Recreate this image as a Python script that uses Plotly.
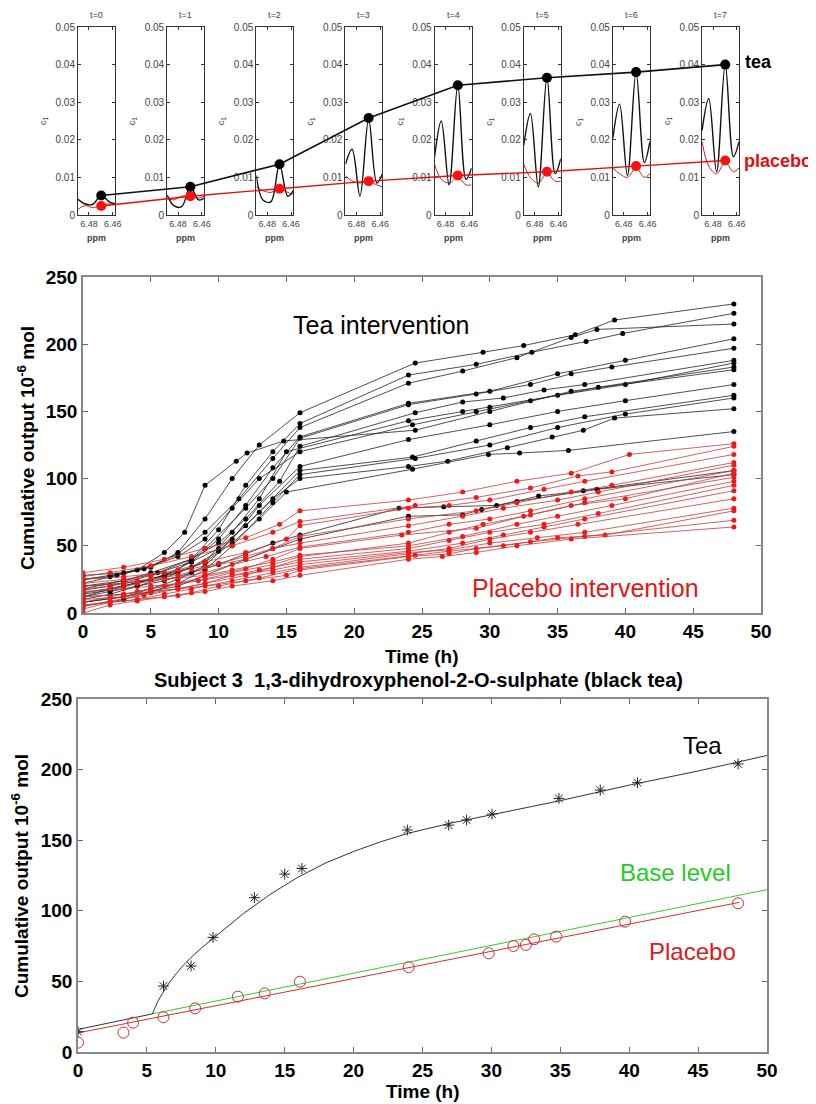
import plotly.graph_objects as go

# page offset: the browser body adds an 8px margin around the figure
PAGE_W, PAGE_H, OFF = 816, 1104, 8
W, H = PAGE_W - OFF, PAGE_H - OFF
FONT = "Liberation Sans, Arial, sans-serif"

# ---------------- top panel data (NMR spectra) ----------------
panel_titles = ["t=0", "t=1", "t=2", "t=3", "t=4", "t=5", "t=6", "t=7"]
spec_ppm = [6.4892, 6.4836, 6.4770, 6.4697, 6.4628, 6.4581]
tea_spectra = [
    [0.0042, 0.0030, 0.0028, 0.0052, 0.0035, 0.0030],
    [0.0053, 0.0025, 0.0022, 0.0075, 0.0040, 0.0045],
    [0.0105, 0.0040, 0.0035, 0.0135, 0.0050, 0.0065],
    [0.0135, 0.0175, 0.0050, 0.0255, 0.0085, 0.0110],
    [0.0155, 0.0250, 0.0080, 0.0345, 0.0095, 0.0125],
    [0.0185, 0.0270, 0.0075, 0.0365, 0.0110, 0.0150],
    [0.0205, 0.0295, 0.0105, 0.0380, 0.0140, 0.0195],
    [0.0225, 0.0310, 0.0115, 0.0400, 0.0155, 0.0195],
]
placebo_spectra = [
    [0.0015, 0.0025, 0.0020, 0.0024, 0.0030, 0.0028],
    [0.0045, 0.0040, 0.0050, 0.0050, 0.0045, 0.0050],
    [0.0075, 0.0065, 0.0060, 0.0070, 0.0060, 0.0055],
    [0.0105, 0.0090, 0.0085, 0.0090, 0.0080, 0.0075],
    [0.0135, 0.0095, 0.0085, 0.0100, 0.0080, 0.0080],
    [0.0135, 0.0100, 0.0085, 0.0110, 0.0090, 0.0090],
    [0.0125, 0.0110, 0.0100, 0.0125, 0.0100, 0.0110],
    [0.0195, 0.0130, 0.0110, 0.0140, 0.0115, 0.0125],
]
tea_peak = [0.0052, 0.0075, 0.0135, 0.0258, 0.0345, 0.0365, 0.0380, 0.0400]
placebo_peak = [0.0024, 0.0050, 0.0070, 0.0090, 0.0105, 0.0115, 0.0130, 0.0145]
peak_ppm = 6.4697
ppm_range = [6.4892, 6.4581]
ppm_ticks = [6.48, 6.46]
ppm_ticklabels = ["6.48", "6.46"]
c_ticks = [0, 0.01, 0.02, 0.03, 0.04, 0.05]
c_ticklabels = ["0", "0.01", "0.02", "0.03", "0.04", "0.05"]

# ---------------- middle panel data (all subjects) ----------------
tea_subjects = [
    ([0, 2.5, 5, 7, 9, 11, 13, 16, 24.5, 29.5, 32.5, 36.3, 39.2, 48],
     [22, 28, 34, 45, 70, 100, 125, 149, 186, 194, 199, 207, 218, 230]),
    ([0, 3, 5.5, 8, 10, 12, 14, 16, 24, 29, 33.1, 37.1, 39.8, 48],
     [18, 24, 30, 40, 62, 95, 120, 141, 177, 185, 194, 202, 208, 223]),
    ([0, 2, 4.5, 7, 9, 11.5, 14, 16, 24, 28, 32, 36, 37.9, 48],
     [25, 27, 33, 44, 60, 85, 115, 138, 171, 180, 190, 205, 211, 215]),
    ([0, 3, 6, 8, 10, 12, 14, 16, 24, 30, 35, 40, 48],
     [15, 20, 28, 38, 55, 80, 108, 131, 156, 165, 178, 188, 204]),
    ([0, 2, 5, 7, 9, 12, 14, 16, 24, 29, 33, 36, 39, 48],
     [12, 18, 25, 32, 48, 78, 100, 130, 155, 163, 170, 178, 183, 197]),
    ([0, 3, 5, 8, 10, 12, 14.5, 16, 24.5, 28, 31, 34, 37, 48],
     [20, 24, 30, 40, 52, 70, 98, 124, 149, 157, 160, 166, 170, 188]),
    ([0, 2, 4, 6, 9, 11, 13, 15, 24, 28, 30, 35, 40, 48],
     [10, 14, 20, 26, 38, 60, 85, 120, 143, 150, 153, 162, 170, 186]),
    ([0, 3, 5, 7, 9, 11, 13, 16, 24.3, 29, 33, 38, 48],
     [28, 30, 35, 42, 55, 78, 100, 120, 140, 150, 158, 168, 183]),
    ([0, 2, 4, 6, 7.5, 9, 11.3, 12.1, 14.8, 24.5, 30, 36, 48],
     [25, 28, 32, 45, 60, 95, 113, 119, 128, 136, 150, 165, 181]),
    ([0, 3, 5, 7, 9, 11, 13, 16, 24, 30, 35, 40, 48],
     [8, 12, 18, 25, 35, 55, 80, 109, 129, 140, 150, 158, 170]),
    ([0, 2, 4, 6, 8, 10, 13, 16, 24.3, 29, 33, 37, 48],
     [14, 17, 22, 28, 34, 46, 75, 106, 116, 128, 138, 146, 162]),
    ([0, 3, 5, 7, 9, 11, 14, 16, 24.5, 30, 35, 40, 48],
     [5, 10, 16, 22, 32, 50, 82, 103, 115, 125, 138, 148, 160]),
    ([0, 2, 5, 8, 10, 12, 14, 16, 24, 26.9, 31.3, 34.6, 36.9, 39.2, 48],
     [17, 20, 28, 38, 48, 65, 85, 100, 109, 113, 123, 131, 136, 145, 152]),
    ([0, 3, 5, 7, 9, 11, 13, 15, 24.3, 29.9, 32.2, 35.8, 48],
     [20, 22, 25, 30, 38, 52, 70, 90, 107, 118, 119, 121, 135]),
    ([0, 2, 4, 6, 8, 10, 12, 14, 16, 23.3, 26.6, 30.5, 33.6, 36.9, 48],
     [12, 16, 20, 24, 30, 36, 44, 52, 58, 78, 79, 80, 87, 91, 106]),
    ([0, 3, 5, 7, 9, 12, 16, 24, 28, 29.4, 32, 37.9, 48],
     [8, 12, 16, 20, 28, 40, 55, 72, 73, 77, 83, 92, 103]),
]
placebo_subjects = [
    ([0, 3, 6, 9, 12, 14.5, 16, 24, 28, 32, 36, 40.3, 48],
     [30, 34, 40, 48, 56, 66, 76, 84, 90, 98, 104, 118, 126]),
    ([0, 2, 5, 8, 11, 14, 16, 24.5, 29, 33, 36.5, 39, 48],
     [27, 30, 35, 42, 50, 60, 68, 80, 86, 93, 102, 105, 124]),
    ([0, 3, 5, 7, 9, 12, 15, 16, 24, 27, 30, 34, 37, 48],
     [22, 25, 28, 32, 38, 45, 55, 65, 78, 80, 84, 92, 98, 118]),
    ([0, 2, 4, 7, 9, 12, 14, 16, 24, 29, 32, 36, 39, 48],
     [18, 20, 24, 28, 34, 40, 48, 57, 70, 76, 82, 90, 95, 112]),
    ([0, 3, 6, 8, 10, 12, 14, 16, 24, 28, 31, 35, 38, 48],
     [25, 27, 30, 33, 37, 42, 48, 52, 65, 72, 78, 84, 90, 110]),
    ([0, 2, 4, 6, 9, 11, 13.5, 16, 24, 27, 30, 33, 37, 48],
     [15, 18, 22, 25, 30, 36, 42, 49, 60, 66, 70, 76, 85, 106]),
    ([0, 3, 5, 7, 9, 12, 14, 16, 23.5, 29, 32.5, 36, 40, 48],
     [12, 14, 18, 22, 27, 33, 40, 48, 58, 63, 72, 80, 85, 104]),
    ([0, 2, 4, 6, 8.5, 11, 14, 16, 24, 27, 29.5, 33, 37, 48],
     [8, 12, 16, 20, 24, 30, 36, 42, 52, 60, 66, 73, 82, 101]),
    ([0, 3, 5, 7, 9, 11, 14, 16, 24, 28, 32, 35, 39, 48],
     [20, 22, 25, 26, 28, 32, 38, 43, 50, 57, 66, 72, 80, 98]),
    ([0, 2, 4.5, 7, 9, 12, 14, 16, 24, 27, 30, 34, 38, 48],
     [5, 9, 13, 18, 22, 28, 34, 40, 48, 54, 60, 66, 74, 95]),
    ([0, 3, 5, 7, 9, 11, 13, 16, 24, 28, 31, 34, 37, 48],
     [10, 12, 15, 18, 22, 28, 32, 38, 46, 52, 58, 64, 70, 91]),
    ([0, 2, 4, 6, 8, 11, 14, 16, 24, 27, 30, 33, 36.5, 48],
     [3, 8, 10, 14, 18, 24, 30, 34, 44, 48, 55, 60, 66, 85]),
    ([0, 3, 5, 7, 9, 12, 14, 16, 24, 27, 30, 33.5, 37, 48],
     [16, 18, 20, 22, 25, 29, 32, 36, 45, 47, 52, 56, 60, 78]),
    ([0, 2, 4, 6, 8, 10, 13, 16, 24.5, 27, 31, 35, 38.5, 48],
     [0, 6, 9, 12, 15, 20, 26, 33, 43, 46, 50, 56, 58, 76]),
    ([0, 3, 5, 7, 9, 12, 15, 16, 24, 27, 29, 33, 37, 48],
     [12, 14, 16, 18, 20, 24, 28, 32, 42, 44, 48, 53, 57, 69]),
    ([0, 2, 4, 7, 9, 11, 14, 16, 24, 26.5, 29, 32, 36, 48],
     [6, 8, 10, 13, 16, 20, 24, 28, 40, 42, 45, 50, 55, 64]),
]

# ---------------- bottom panel data (subject 3) ----------------
s3_tea_t = [0, 6.2, 8.2, 9.8, 12.8, 15.0, 16.25, 23.9, 26.9, 28.2, 30.05, 34.9, 37.9, 40.6, 47.9]
s3_tea_v = [14.4, 46.7, 60.9, 81.2, 109.3, 126, 130, 157.2, 160.7, 164.3, 168.5, 179.6, 185.5, 190.7, 204]
s3_tea_fit_t = [0, 5.4, 5.8, 6.4, 7, 7.6, 8.2, 9, 10, 11, 12, 13, 14, 15, 16, 18, 20, 22, 24, 27, 30, 35, 40, 45, 50]
s3_tea_fit_v = [16, 27, 36, 46, 54, 61, 67, 74, 82, 90, 98, 105, 112, 118, 124, 134, 142, 149, 155, 162, 168, 178, 189, 199, 210]
s3_plc_t = [0, 3.3, 4.0, 6.2, 8.5, 11.6, 13.55, 16.1, 24.0, 29.8, 31.6, 32.5, 33.1, 34.7, 39.7, 47.9]
s3_plc_v = [6.6, 13.7, 20.8, 24.6, 30.9, 39.2, 41.5, 49.8, 60, 69.9, 75.1, 75.8, 79.8, 81.7, 92.3, 105.3]
s3_plc_fit_t = [0, 48]
s3_plc_fit_v = [13.5, 106]
s3_base_t = [5.4, 50]
s3_base_v = [27, 115]

# ---------------- layout helpers (page pixels -> paper fractions) ----------------
def fx(px):
    return (px - OFF) / W

def fy(py):
    return 1 - (py - OFF) / H

fig = go.Figure()
layout = dict(
    width=W, height=H, margin=dict(l=0, r=0, t=0, b=0),
    paper_bgcolor="white", plot_bgcolor="rgba(0,0,0,0)",
    showlegend=False, font=dict(family=FONT, color="black"),
)
annotations = []

def label(text, x, y, size, color="black", bold=False, angle=0, xanchor="center"):
    f = dict(size=size, color=color, family=FONT)
    if bold:
        f["weight"] = "bold"
    annotations.append(dict(text=text, x=fx(x), y=fy(y), xref="paper", yref="paper",
                            showarrow=False, xanchor=xanchor, yanchor="middle",
                            textangle=angle, font=f))

# top small multiples
p_left0, p_pitch, p_w = 78, 89.15, 37
p_top, p_bot = 27, 215
for i in range(8):
    n = i + 1
    xl = p_left0 + i * p_pitch
    fig.add_trace(go.Scatter(x=spec_ppm, y=placebo_spectra[i], mode="lines",
                             line=dict(color="#d42020", width=1, shape="spline", smoothing=1.0),
                             xaxis=f"x{n}", yaxis=f"y{n}", hoverinfo="skip"))
    fig.add_trace(go.Scatter(x=spec_ppm, y=tea_spectra[i], mode="lines",
                             line=dict(color="#111111", width=1.4, shape="spline", smoothing=1.0),
                             xaxis=f"x{n}", yaxis=f"y{n}", hoverinfo="skip"))
    layout[f"xaxis{n}"] = dict(
        domain=[fx(xl), fx(xl + p_w)], range=ppm_range, anchor=f"y{n}", automargin=False,
        tickvals=ppm_ticks, ticktext=ppm_ticklabels, ticks="inside", ticklen=3,
        tickcolor="#333", showline=True, linecolor="#333", linewidth=1, mirror="ticks",
        showgrid=False, zeroline=False, tickfont=dict(size=9, color="#444"),
    )
    layout[f"yaxis{n}"] = dict(
        domain=[fy(p_bot), fy(p_top)], range=[0, 0.05], anchor=f"x{n}", automargin=False,
        tickvals=c_ticks, ticktext=c_ticklabels, ticks="inside", ticklen=3,
        tickcolor="#333", showline=True, linecolor="#333", linewidth=1, mirror="ticks",
        showgrid=False, zeroline=False, tickfont=dict(size=10, color="#444"),
    )
    label(panel_titles[i], xl + p_w / 2, 15, 9, "#444")
    label("ppm", xl + p_w / 2, 238, 9, "#444", bold=True)
    label("c<sub>1</sub>", xl - 35, 121, 9, "#444", angle=-90)

# overlay axis connecting the peak intensities
frac = (ppm_range[0] - peak_ppm) / (ppm_range[0] - ppm_range[1]) * (p_w / p_pitch)
dot_x = [i + frac for i in range(8)]
fig.add_trace(go.Scatter(x=dot_x, y=placebo_peak, mode="lines+markers",
                         line=dict(color="#e01010", width=1.4),
                         marker=dict(color="#ff1010", size=10),
                         xaxis="x9", yaxis="y9", hoverinfo="skip"))
fig.add_trace(go.Scatter(x=dot_x, y=tea_peak, mode="lines+markers",
                         line=dict(color="#111111", width=1.6),
                         marker=dict(color="black", size=10),
                         xaxis="x9", yaxis="y9", hoverinfo="skip"))
layout["xaxis9"] = dict(domain=[fx(p_left0), fx(p_left0 + 8 * p_pitch)], range=[0, 8],
                        anchor="y9", visible=False, fixedrange=True, automargin=False)
layout["yaxis9"] = dict(domain=[fy(p_bot), fy(p_top)], range=[0, 0.05],
                        anchor="x9", visible=False, fixedrange=True, automargin=False)
label("tea", 743, 62, 18, "black", bold=True, xanchor="left")
label("placebo", 742, 161, 18, "#e01010", bold=True, xanchor="left")

# middle panel
for t, v in tea_subjects:
    fig.add_trace(go.Scatter(x=t, y=v, mode="lines+markers",
                             line=dict(color="#222222", width=0.8),
                             marker=dict(color="black", size=5),
                             xaxis="x10", yaxis="y10", hoverinfo="skip"))
for t, v in placebo_subjects:
    fig.add_trace(go.Scatter(x=t, y=v, mode="lines+markers",
                             line=dict(color="#c83a3a", width=0.8),
                             marker=dict(color="#f01818", size=5),
                             xaxis="x10", yaxis="y10", hoverinfo="skip"))

big_axis = dict(ticks="inside", ticklen=5, tickcolor="#666", showline=True,
                linecolor="#888", linewidth=1.5, mirror="ticks", showgrid=False,
                zeroline=False, automargin=False,
                tickfont=dict(size=19, weight="bold", color="black", family=FONT))

layout["xaxis10"] = dict(big_axis, domain=[fx(83), fx(761)], range=[0, 50], dtick=5, anchor="y10")
layout["yaxis10"] = dict(big_axis, domain=[fy(613), fy(277)], range=[0, 250], dtick=50, anchor="x10")
label("Time (h)", 422, 656, 19, bold=True)
label("Cumulative output 10<sup>-6</sup> mol", 26, 448, 19, bold=True, angle=-90)
label("Tea intervention", 381, 325, 25)
label("Placebo intervention", 585, 588, 25, "#e01818")

# bottom panel
fig.add_trace(go.Scatter(x=s3_base_t, y=s3_base_v, mode="lines",
                         line=dict(color="#33cc33", width=1),
                         xaxis="x11", yaxis="y11", hoverinfo="skip"))
fig.add_trace(go.Scatter(x=s3_plc_fit_t, y=s3_plc_fit_v, mode="lines",
                         line=dict(color="#d03030", width=1),
                         xaxis="x11", yaxis="y11", hoverinfo="skip"))
fig.add_trace(go.Scatter(x=s3_tea_fit_t, y=s3_tea_fit_v, mode="lines",
                         line=dict(color="#333333", width=1),
                         xaxis="x11", yaxis="y11", hoverinfo="skip"))
fig.add_trace(go.Scatter(x=s3_plc_t, y=s3_plc_v, mode="markers",
                         marker=dict(symbol="circle-open", size=11, color="#d03030",
                                     line=dict(width=1, color="#d03030")),
                         xaxis="x11", yaxis="y11", hoverinfo="skip"))
fig.add_trace(go.Scatter(x=s3_tea_t, y=s3_tea_v, mode="markers",
                         marker=dict(symbol="asterisk-open", size=9, color="#222",
                                     line=dict(width=1, color="#222")),
                         xaxis="x11", yaxis="y11", hoverinfo="skip"))

layout["xaxis11"] = dict(big_axis, domain=[fx(78), fx(767)], range=[0, 50], dtick=5, anchor="y11")
layout["yaxis11"] = dict(big_axis, domain=[fy(1052), fy(699)], range=[0, 250], dtick=50, anchor="x11")
label("Time (h)", 423, 1091, 19, bold=True)
label("Cumulative output 10<sup>-6</sup> mol", 20, 876, 19, bold=True, angle=-90)
label("Subject 3  1,3-dihydroxyphenol-2-O-sulphate (black tea)", 418, 680, 20, bold=True)
label("Tea", 702, 745, 24)
label("Base level", 675, 872, 24, "#22cc22")
label("Placebo", 692, 951, 24, "#d42020")

layout["annotations"] = annotations
fig.update_layout(**layout)
fig.write_html("out.html")
